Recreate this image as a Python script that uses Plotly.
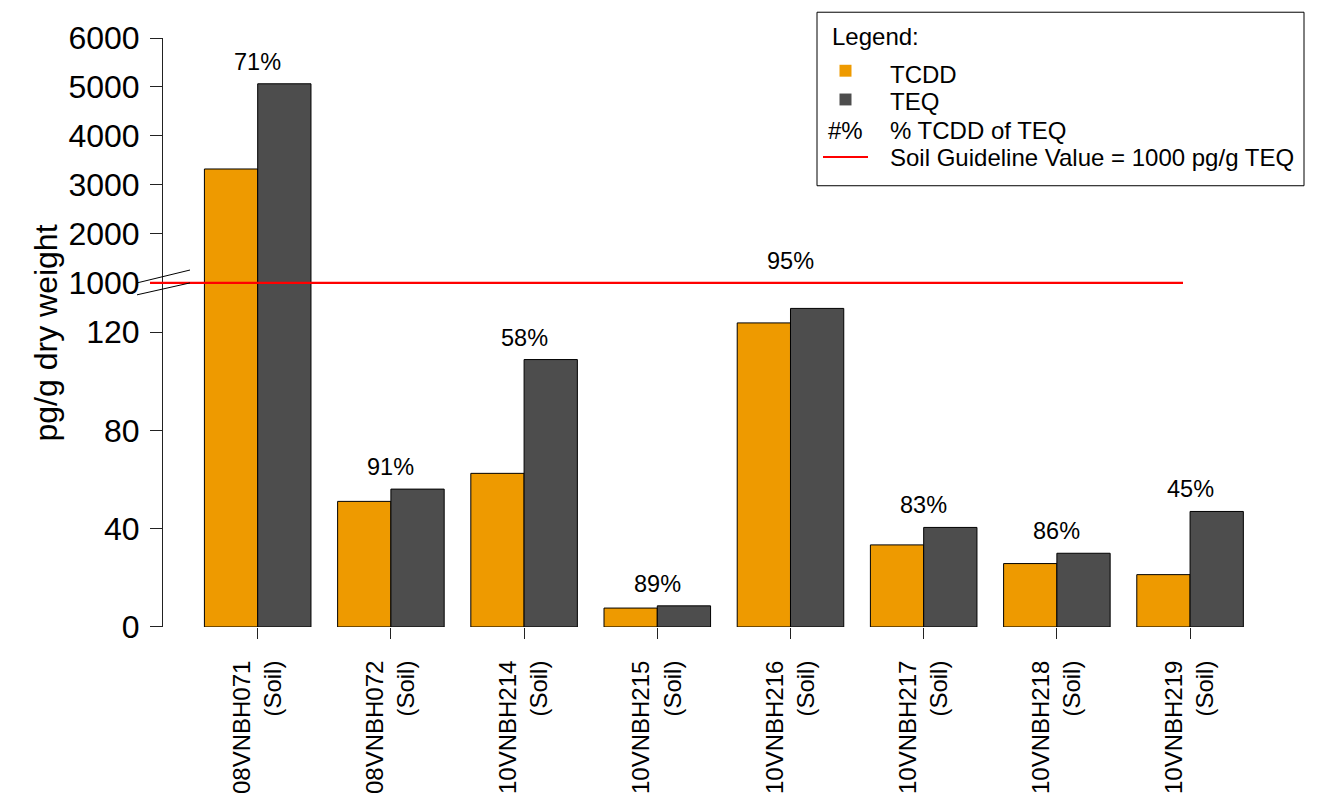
import plotly.graph_objects as go

# ---------------- data ----------------
samples = ["08VNBH071", "08VNBH072", "10VNBH214", "10VNBH215",
           "10VNBH216", "10VNBH217", "10VNBH218", "10VNBH219"]
sample_type = "Soil"
tcdd = [3325, 51.1, 62.5, 7.7, 123.7, 33.4, 25.8, 21.3]
teq = [5065, 56.1, 108.8, 8.6, 129.6, 40.5, 30.0, 47.0]
pct_tcdd = [71, 91, 58, 89, 95, 83, 86, 45]
guideline = 1000
lower_ticks = [0, 40, 80, 120]
upper_ticks = [1000, 2000, 3000, 4000, 5000, 6000]
lower_range = [0, 140]
upper_range = [1000, 6000]

# ---------------- layout constants ----------------
OFF = 8  # page body margin offset
W, H = 1330, 799
PW, PH = 1097, 594
L, T = 163 - OFF, 33 - OFF
R = W - L - PW
B = H - T - PH
BREAK = 0.5843  # fraction of plot height used by the lower segment

ORANGE = "#EE9A00"
GREY = "#4D4D4D"
FONT = "Liberation Sans, Arial, sans-serif"


def px(x):
    return (x - OFF - L) / PW


def py(y):
    return (H - B - (y - OFF)) / PH


labels = [f"{s}<br>({sample_type})" for s in samples]

fig = go.Figure()
for yax in ("y", "y2"):
    fig.add_trace(go.Bar(x=labels, y=tcdd, yaxis=yax, name="TCDD",
                         marker=dict(color=ORANGE, line=dict(color="black", width=1)),
                         showlegend=False, hoverinfo="skip"))
    fig.add_trace(go.Bar(x=labels, y=teq, yaxis=yax, name="TEQ",
                         marker=dict(color=GREY, line=dict(color="black", width=1)),
                         showlegend=False, hoverinfo="skip"))

axis_common = dict(showline=True, linecolor="#222", linewidth=1, ticks="outside",
                   ticklen=12, tickcolor="#222", showgrid=False, zeroline=False,
                   tickfont=dict(size=32, color="black", family=FONT),
                   ticklabelstandoff=4)

fig.update_layout(
    width=W, height=H,
    margin=dict(l=L, r=R, t=T, b=B),
    paper_bgcolor="white", plot_bgcolor="white",
    barmode="group", bargap=0.2, bargroupgap=0,
    font=dict(family=FONT, color="black"),
    xaxis=dict(type="category", range=[-0.711, 7.525], showline=False,
               ticks="outside", ticklen=11, tickcolor="#222", showgrid=False,
               tickangle=-90, tickfont=dict(size=24, color="black", family=FONT),
               ticklabelstandoff=12, anchor="y"),
    yaxis=dict(domain=[0, BREAK], range=lower_range, tickvals=lower_ticks,
               ticktext=[str(v) for v in lower_ticks], anchor="x", **axis_common),
    yaxis2=dict(domain=[BREAK, 1], range=upper_range, tickvals=upper_ticks,
                ticktext=[str(v) for v in upper_ticks], anchor="x", **axis_common),
)

shapes = []
annotations = []

# guideline (red) line at the axis break (value 1000 = bottom of upper segment)
shapes.append(dict(type="line", xref="paper", yref="paper",
                   x0=px(150), x1=px(1183), y0=BREAK, y1=BREAK,
                   line=dict(color="#FF0000", width=2.2)))

# axis-break marks
shapes.append(dict(type="line", xref="paper", yref="paper",
                   x0=px(137), y0=py(280), x1=px(190), y1=py(267),
                   line=dict(color="black", width=1)))
shapes.append(dict(type="line", xref="paper", yref="paper",
                   x0=px(137), y0=py(292), x1=px(190), y1=py(280),
                   line=dict(color="black", width=1)))

# percentage labels
for lab, v, p in zip(labels, teq, pct_tcdd):
    if v > lower_range[1]:
        yref, yv = "y2", v
    elif v > lower_range[1] - 15:
        yref, yv = "y2", upper_range[0]
    else:
        yref, yv = "y", v
    annotations.append(dict(x=lab, y=yv, xref="x", yref=yref, text=f"{p}%",
                            showarrow=False, yshift=22, yanchor="middle",
                            font=dict(size=23.5, color="black", family=FONT)))

# y-axis title
annotations.append(dict(x=px(46), y=py(331), xref="paper", yref="paper",
                        text="pg/g dry weight", textangle=-90, showarrow=False,
                        xanchor="center", yanchor="middle",
                        font=dict(size=32, color="black", family=FONT)))

# legend box
shapes.append(dict(type="rect", xref="paper", yref="paper",
                   x0=px(817), x1=px(1304), y0=py(7), y1=py(182),
                   line=dict(color="black", width=1), fillcolor="white"))
legend_font = dict(size=24, color="black", family=FONT)
annotations.append(dict(x=px(830), y=py(31.5), xref="paper", yref="paper",
                        text="Legend:", showarrow=False, xanchor="left",
                        yanchor="middle", font=legend_font))
rows = [("TCDD", 69.5), ("TEQ", 97.5), ("% TCDD of TEQ", 126),
        (f"Soil Guideline Value = {guideline} pg/g TEQ", 154)]
for txt, yy in rows:
    annotations.append(dict(x=px(888), y=py(yy), xref="paper", yref="paper",
                            text=txt, showarrow=False, xanchor="left",
                            yanchor="middle", font=legend_font))
for col, cy in ((ORANGE, 66), (GREY, 95)):
    shapes.append(dict(type="rect", xref="paper", yref="paper",
                       x0=px(839.5), x1=px(851.5), y0=py(cy - 6), y1=py(cy + 6),
                       line=dict(width=0), fillcolor=col))
annotations.append(dict(x=px(845.5), y=py(126), xref="paper", yref="paper",
                        text="#%", showarrow=False, xanchor="center",
                        yanchor="middle", font=legend_font))
shapes.append(dict(type="line", xref="paper", yref="paper",
                   x0=px(823), x1=px(868), y0=py(153), y1=py(153),
                   line=dict(color="#FF0000", width=2.2)))

fig.update_layout(shapes=shapes, annotations=annotations)
fig.write_html("out.html")
